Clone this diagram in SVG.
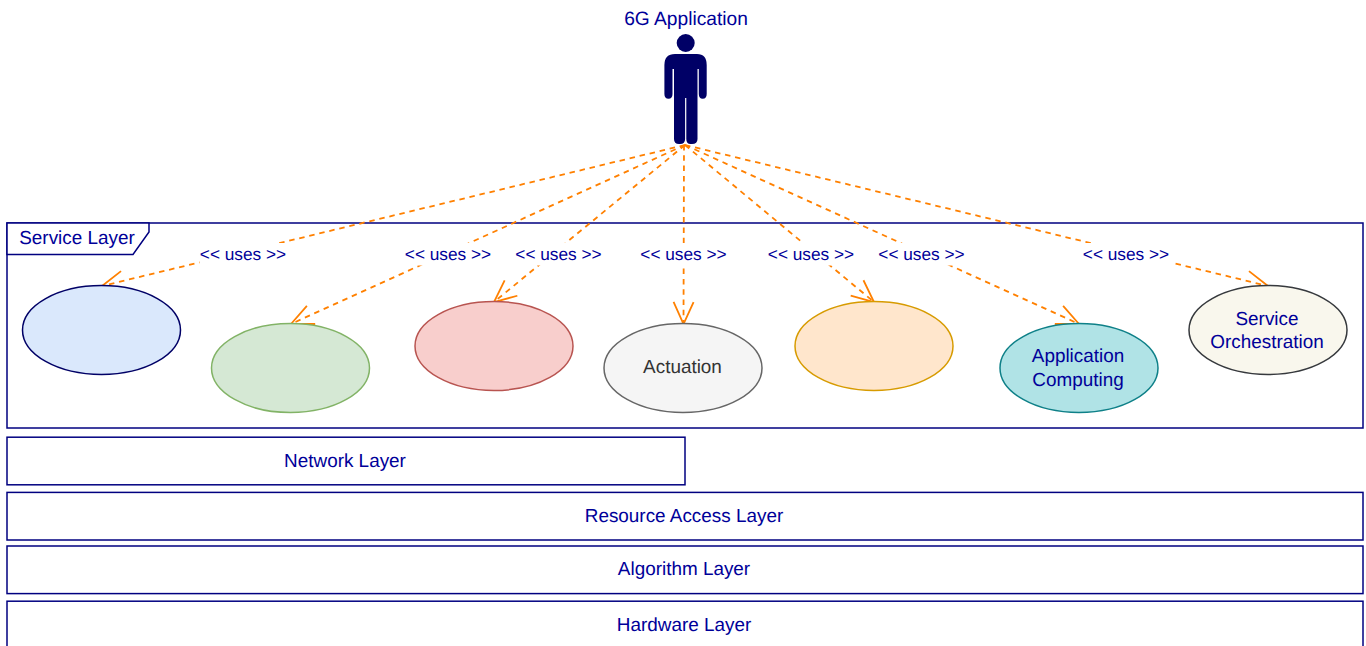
<svg xmlns="http://www.w3.org/2000/svg" width="1366" height="646" viewBox="0 0 1366 646">
<style>
text{font-family:"Liberation Sans",Arial,sans-serif;font-size:18.900px;fill:#000099;text-anchor:middle;text-rendering:geometricPrecision}
.box{fill:#fff;stroke:#000080;stroke-width:1.500}
.edge{fill:none;stroke:#ff8000;stroke-width:1.800;stroke-dasharray:5.500 4.800;marker-end:url(#open)}
.lab{font-size:17.280px}
.mask{fill:#fff}
ellipse{stroke-width:1.500}
</style>
<defs>
<marker id="open" markerUnits="userSpaceOnUse" markerWidth="30" markerHeight="30" refX="26" refY="15" orient="auto" viewBox="0 0 30 30">
<path d="M4 5 L26 15 L4 25" fill="none" stroke="#ff8000" stroke-width="1.800"/>
</marker>
</defs>
<g id="service-layer">
<rect class="box" x="7" y="223" width="1356" height="205"/>
<path class="box" d="M7 223H149V232L133 254.500H7Z"/>
<text x="77" y="243.500">Service Layer</text>
</g>
<g id="connectors">
<path class="edge" d="M685 145L102 286"/>
<path class="edge" d="M685 145L291 324"/>
<path class="edge" d="M685 145L494 302"/>
<path class="edge" d="M684 145L683.500 324"/>
<path class="edge" d="M685 145L874 302"/>
<path class="edge" d="M685 145L1079 324"/>
<path class="edge" d="M685 145L1268 286"/>
<rect class="mask" x="199.500" y="243" width="87" height="22.500"/>
<rect class="mask" x="404.500" y="243" width="87" height="22.500"/>
<rect class="mask" x="515" y="243" width="87" height="22.500"/>
<rect class="mask" x="640" y="243" width="87" height="22.500"/>
<rect class="mask" x="767.500" y="243" width="87" height="22.500"/>
<rect class="mask" x="878" y="243" width="87" height="22.500"/>
<rect class="mask" x="1082.500" y="243" width="91" height="22.500"/>
<text class="lab" x="243" y="260">&lt;&lt; uses &gt;&gt;</text>
<text class="lab" x="448" y="260">&lt;&lt; uses &gt;&gt;</text>
<text class="lab" x="558.500" y="260">&lt;&lt; uses &gt;&gt;</text>
<text class="lab" x="683.500" y="260">&lt;&lt; uses &gt;&gt;</text>
<text class="lab" x="811" y="260">&lt;&lt; uses &gt;&gt;</text>
<text class="lab" x="921.500" y="260">&lt;&lt; uses &gt;&gt;</text>
<text class="lab" x="1126" y="260">&lt;&lt; uses &gt;&gt;</text>
</g>
<g id="actor">
<text x="686" y="25" style="font-size:19.200px">6G Application</text>
<circle cx="685.700" cy="43" r="9" fill="#000066"/>
<path fill="#000066" d="M675 54H697Q706.700 54 706.700 65V94Q706.700 98.700 702.700 98.700Q698.800 98.700 698.800 94V69H697.500V139Q697.500 144 692 144H690.500Q686.300 144 686.300 139V98H685.100V139Q685.100 144 680 144H679Q674 144 674 139V69H672.500V94Q672.500 98.700 668.500 98.700Q664.400 98.700 664.400 94V65Q664.400 54 675 54Z"/>
</g>
<g id="u1"><ellipse cx="101.500" cy="330" rx="79" ry="44.500" fill="#dae8fc" stroke="#000066"/></g>
<g id="u2"><ellipse cx="290.500" cy="368" rx="79" ry="44.500" fill="#d5e8d4" stroke="#82b366"/></g>
<g id="u3"><ellipse cx="494" cy="346" rx="79" ry="44.500" fill="#f8cecc" stroke="#b85450"/></g>
<g id="u4"><ellipse cx="683" cy="368" rx="79" ry="44.500" fill="#f5f5f5" stroke="#666666"/><text x="682.500" y="373" style="fill:#333333">Actuation</text></g>
<g id="u5"><ellipse cx="874" cy="346" rx="79" ry="44.500" fill="#ffe6cc" stroke="#d79b00"/></g>
<g id="u6"><ellipse cx="1079" cy="368" rx="79" ry="44.500" fill="#b0e3e6" stroke="#0e8088"/><text x="1078" y="362">Application</text><text x="1078" y="386">Computing</text></g>
<g id="u7"><ellipse cx="1268" cy="330" rx="79" ry="44.500" fill="#f9f7ed" stroke="#36393d"/><text x="1267" y="325">Service</text><text x="1267" y="348">Orchestration</text></g>
<g id="network"><rect class="box" x="7" y="437.200" width="678" height="47.600"/><text x="345" y="467">Network Layer</text></g>
<g id="resource"><rect class="box" x="7" y="492.400" width="1356" height="47.600"/><text x="684" y="522">Resource Access Layer</text></g>
<g id="algorithm"><rect class="box" x="7" y="546" width="1356" height="47.600"/><text x="684" y="575">Algorithm Layer</text></g>
<g id="hardware"><rect class="box" x="7" y="601.200" width="1356" height="60"/><text x="684" y="631">Hardware Layer</text></g>
</svg>
